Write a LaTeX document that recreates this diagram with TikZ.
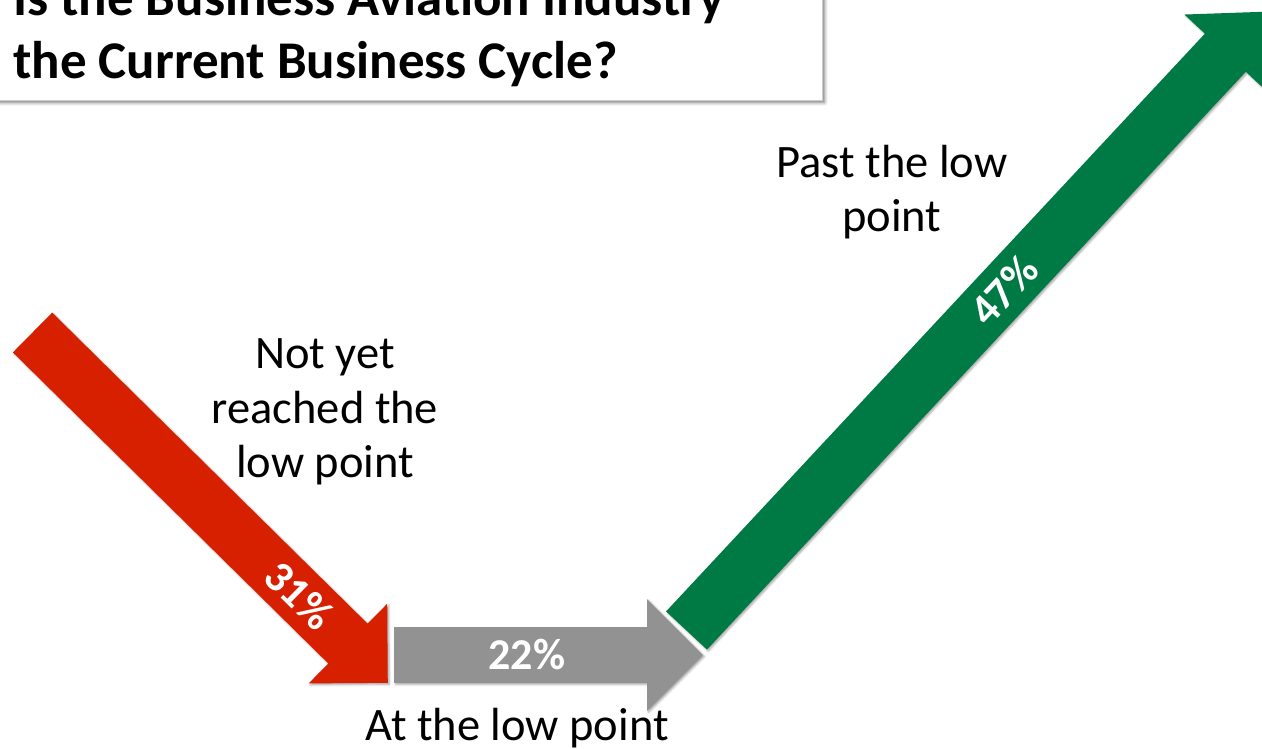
\documentclass[tikz,border=0pt]{standalone}
\usepackage{fontspec}
\setmainfont{Carlito}
\usetikzlibrary{shapes.arrows,shadows.blur,calc}

\definecolor{cyclered}{RGB}{214,32,0}
\definecolor{cyclegreen}{RGB}{0,122,69}
\definecolor{cyclegray}{RGB}{146,146,146}

\begin{document}
\begin{tikzpicture}[x=1pt,y=-1pt,
  blockarrow/.style={single arrow, single arrow head extend=28pt, single arrow tip angle=90,
    text height=27.75pt, text depth=27.75pt, inner sep=0pt, outer sep=0pt, draw=none, anchor=tail,
    blur shadow={shadow xshift=1.5pt,shadow yshift=-1.5pt,shadow blur radius=2pt,shadow opacity=35}},
  pct/.style={text=white, font=\fontsize{44}{44}\selectfont\bfseries, inner sep=0pt},
  caption/.style={align=center, font=\fontsize{46.5}{54.5}\selectfont, inner sep=0pt},
  titleline/.style={anchor=base west, font=\fontsize{53}{64}\selectfont\bfseries, inner sep=0pt}]
\clip (0,0) rectangle (1262,748);
% title box, cut by the page edge
\node[fill=white, draw=black!20, line width=0.5pt, anchor=south east, minimum width=860pt, minimum height=140pt,
  blur shadow={shadow xshift=3pt,shadow yshift=-3pt,shadow blur radius=3pt,shadow opacity=50}] (titlebox) at (822,100) {};
\node[titleline] (title1) at (13,15) {Is the Business Aviation Industry};
\node[titleline] (title2) at (13,78) {the Current Business Cycle?};
% the three arrows
\coordinate (redtail) at (32.5,332.5);
\coordinate (redtip) at (388,683);
\coordinate (graytail) at (394,655);
\coordinate (graytip) at (703,655);
\coordinate (greentail) at (686.5,630.5);
\coordinate (greentip) at (1263.5,12);
\node[blockarrow, fill=cyclered, minimum height=499pt, rotate=-44.6] (redarrow) at (redtail) {};
\node[blockarrow, fill=cyclegray, minimum height=309pt] (grayarrow) at (graytail) {};
\node[blockarrow, fill=cyclegreen, minimum height=846pt, rotate=47] (greenarrow) at (greentail) {};
\node[pct, rotate=-44.6] (redpct) at ($(redtail)!0.75!(redtip)$) {31\%};
\node[pct] (graypct) at ($(graytail)!0.43!(graytip)$) {22\%};
\node[pct, rotate=47] (greenpct) at ($(greentail)!0.55!(greentip)$) {47\%};
% captions
\node[caption] (notyet) at (325,412) {Not yet\\reached the\\low point};
\node[caption] (past) at (892,192) {Past the low\\point};
\node[caption] (atlow) at (517,728) {At the low point};
\end{tikzpicture}
\end{document}
